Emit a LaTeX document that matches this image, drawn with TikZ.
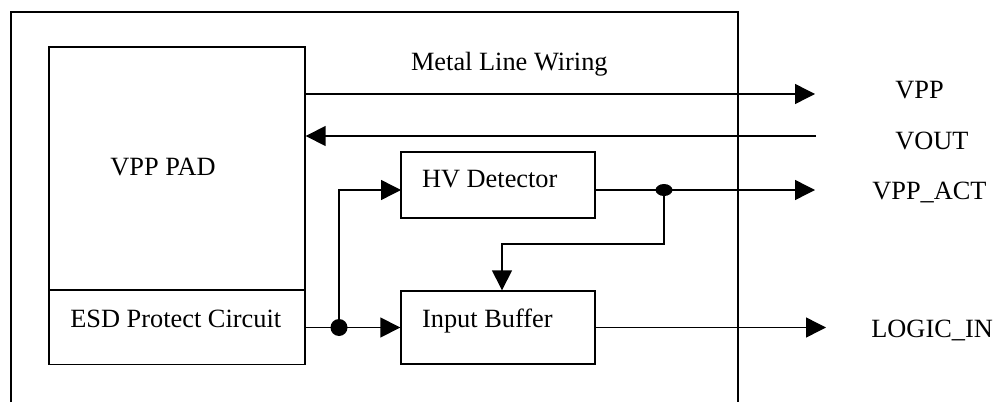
\documentclass[tikz,border=0pt]{standalone}
\usepackage{fontspec}
\setmainfont{Liberation Serif}
\usetikzlibrary{arrows.meta,shapes.geometric}

\tikzset{
  block/.style={draw, line width=0.8pt, rectangle, inner sep=0pt},
  txt/.style={anchor=base west, inner sep=0pt, font=\fontsize{15}{18}\selectfont},
  sig/.style={line width=0.8pt, -{Triangle[length=0.4cm,width=0.4cm]}},
  wire/.style={line width=0.8pt},
  dot/.style={circle, fill, inner sep=0pt, minimum size=0.34cm},
  flatdot/.style={ellipse, fill, inner sep=0pt, minimum width=0.34cm, minimum height=0.24cm}
}

\begin{document}
\begin{tikzpicture}[x=0.02cm, y=-0.02cm]
  \useasboundingbox (0,0) rectangle (993,402);

  % Chip outline
  \draw[wire] (11,402) -- (11,12) -- (738,12) -- (738,402);

  % Pad and ESD
  \node[block, minimum width=5.12cm, minimum height=4.86cm] (pad) at (177,168.5) {};
  \node[block, minimum width=5.12cm, minimum height=1.48cm] (esd) at (177,327.5) {};
  \node[txt] (padtext) at (110,175) {VPP PAD};
  \node[txt] (esdtext) at (70,327.7) {ESD Protect Circuit};

  % Detector and buffer
  \node[block, minimum width=3.88cm, minimum height=1.32cm] (hv) at (498,185) {};
  \node[block, minimum width=3.88cm, minimum height=1.46cm] (ib) at (498,327.5) {};
  \node[txt] (hvtext) at (421.7,187.7) {HV Detector};
  \node[txt] (ibtext) at (421.7,327.7) {Input Buffer};

  % Metal lines
  \node[txt] (metal) at (410.7,71) {Metal Line Wiring};
  \coordinate (vppend) at (815,94);
  \coordinate (voutstart) at (816,136);
  \draw[sig] (pad.east |- vppend) -- (vppend);
  \draw[sig] (voutstart) -- (pad.east |- voutstart);

  % ESD output
  \node[dot] (j1) at (339,327.5) {};
  \draw[sig] (esd.east) -- (ib.west);
  \coordinate (hvin) at (401,190);
  \draw[sig] (j1.center) |- (hvin);

  % Detector output
  \node[flatdot] (j2) at (664,190) {};
  \coordinate (actend) at (815,190);
  \draw[wire] (hv.east |- j2) -- (j2.center);
  \draw[sig] (j2.center) -- (actend);
  \coordinate (fbturn) at (502,244);
  \draw[sig] (j2.center) |- (fbturn) -- (fbturn |- ib.north);

  % Buffer output
  \coordinate (logicend) at (826,327.5);
  \draw[sig] (ib.east) -- (logicend);

  % Pin names
  \node[txt] (vpp) at (895,98.3) {VPP};
  \node[txt] (vout) at (895,149) {VOUT};
  \node[txt] (vppact) at (872,199) {VPP\_ACT};
  \node[txt] (logicin) at (871,337.3) {LOGIC\_IN};
\end{tikzpicture}
\end{document}
